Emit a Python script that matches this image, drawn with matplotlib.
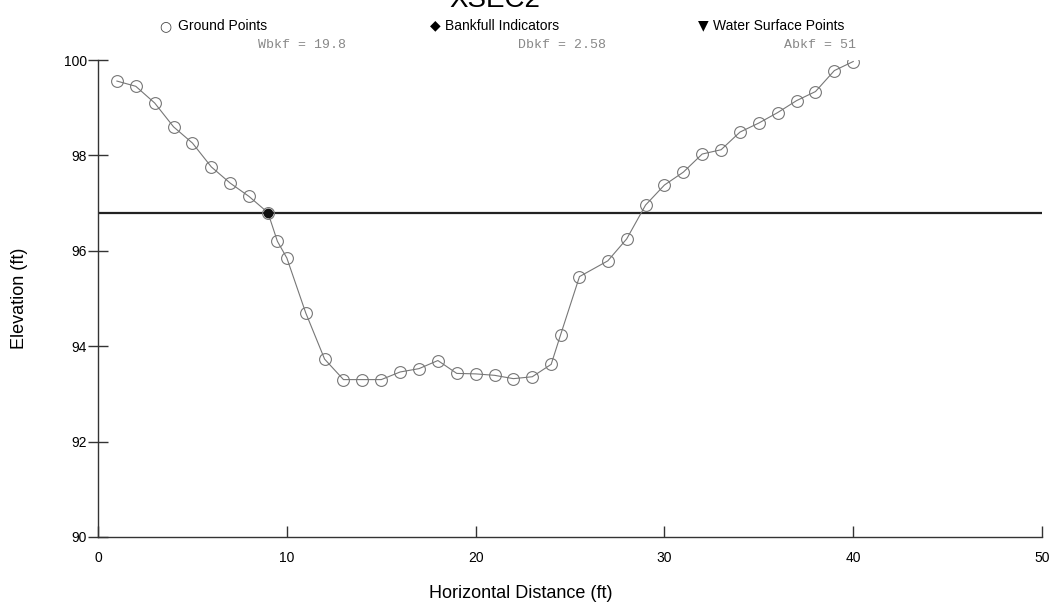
import matplotlib.pyplot as plt

plt.rcParams['font.family'] = ['Liberation Sans', 'DejaVu Sans']

# surveyed ground points across the section
station = [1, 2, 3, 4, 5, 6, 7, 8, 9, 9.5, 10, 11, 12, 13, 14, 15, 16, 17, 18, 19,
           20, 21, 22, 23, 24, 24.5, 25.5, 27, 28, 29, 30, 31, 32, 33, 34, 35, 36,
           37, 38, 39, 40]
elev = [99.56, 99.45, 99.10, 98.60, 98.26, 97.76, 97.42, 97.14, 96.80, 96.20,
        95.85, 94.70, 93.73, 93.30, 93.30, 93.30, 93.46, 93.53, 93.70, 93.43,
        93.42, 93.39, 93.32, 93.36, 93.62, 94.24, 95.46, 95.79, 96.25, 96.96,
        97.38, 97.65, 98.03, 98.12, 98.49, 98.68, 98.90, 99.15, 99.34, 99.78,
        99.97]

# bankfull indicator and stage
bkf_station = [9]
bkf_elev = [96.8]
bkf_stage = 96.8

stats = ["Wbkf = 19.8", "Dbkf = 2.58", "Abkf = 51"]

fig = plt.figure(figsize=(10.53, 6.13), dpi=100)
ax = fig.add_axes([0.0931, 0.124, 0.8965, 0.778])

ax.axhline(bkf_stage, color='#222222', lw=1.6, zorder=2)
ax.plot(station, elev, color='#777777', lw=0.8, marker='o', ms=8.5,
        mfc='none', mec='#777777', mew=0.8, zorder=3)
ax.plot(bkf_station, bkf_elev, 'o', color='#111111', ms=6, zorder=4)

ax.set_xlim(0, 50)
ax.set_ylim(90, 100)
ax.set_xticks(range(0, 51, 10))
ax.set_yticks(range(90, 101, 2))
for s in ['top', 'right']:
    ax.spines[s].set_visible(False)
for s in ['left', 'bottom']:
    ax.spines[s].set_color('#333333')
    ax.spines[s].set_linewidth(1.0)
ax.tick_params(axis='y', direction='inout', length=14, width=1.0,
               labelsize=10, color='#333333', pad=1)
ax.tick_params(axis='x', direction='in', length=8, width=1.0,
               labelsize=10, color='#333333', pad=10)

ax.set_ylabel("Elevation (ft)", fontsize=13, labelpad=26)
fig.text(0.495, 0.032, "Horizontal Distance (ft)", fontsize=13,
         ha='center', va='center')

# title sits partly above the canvas
fig.text(0.47, 0.988, "XSEC2", fontsize=20, ha='center', va='baseline')

# legend row
fig.text(0.157, 0.958, "\u25cb", fontsize=10, ha='center', va='center',
         family=['DejaVu Sans'], color='#444444')
fig.text(0.169, 0.958, "Ground Points", fontsize=10, va='center')
fig.text(0.413, 0.958, "\u25c6", fontsize=10, ha='center', va='center',
         family=['DejaVu Sans'])
fig.text(0.423, 0.958, "Bankfull Indicators", fontsize=10, va='center')
fig.text(0.668, 0.958, "\u25bc", fontsize=10, ha='center', va='center',
         family=['DejaVu Sans'])
fig.text(0.677, 0.958, "Water Surface Points", fontsize=10, va='center')

# bankfull summary values
for xpos, txt in zip([0.245, 0.492, 0.745], stats):
    fig.text(xpos, 0.927, txt, fontsize=9.5, va='center', color='#888888',
             family=['Liberation Mono', 'DejaVu Sans Mono'])

fig.savefig("out.png", dpi=100)
